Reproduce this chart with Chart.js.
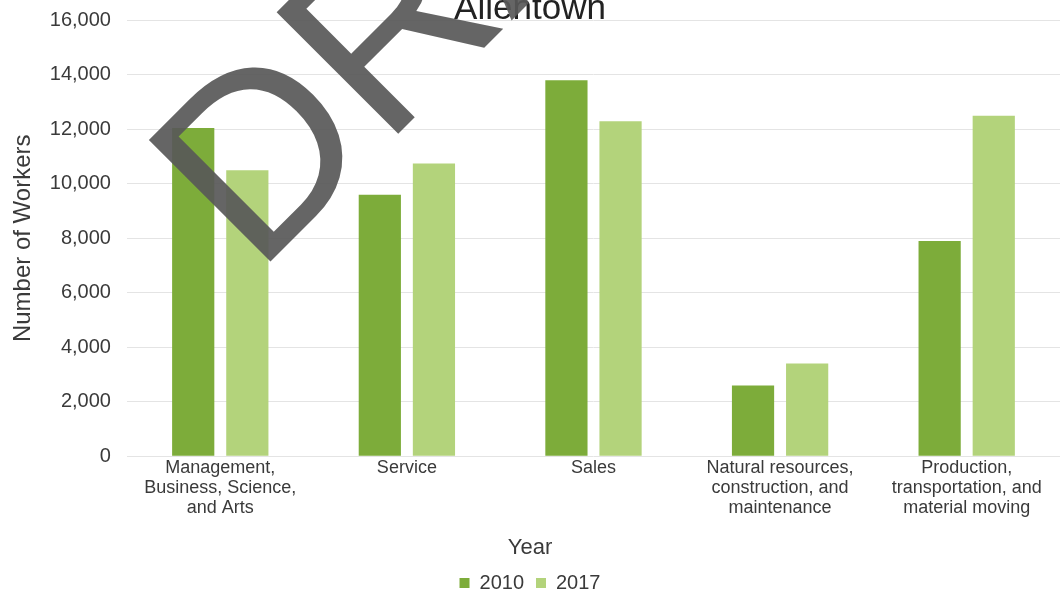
<!DOCTYPE html>
<html>
<head>
<meta charset="utf-8">
<title>Allentown</title>
<script src="https://cdn.jsdelivr.net/npm/chart.js@4/dist/chart.umd.min.js"></script>
<style>
    body { margin: 0; background: #ffffff; }
    #occupationChart { display: block; }
</style>
</head>
<body>
<canvas id="occupationChart" width="1060" height="603"></canvas>
<script>
// Chart data
const categories = [
    ["Management,", "Business, Science,", "and Arts"],
    "Service",
    "Sales",
    ["Natural resources,", "construction, and", "maintenance"],
    ["Production,", "transportation, and", "material moving"]
];

const years = ["2010", "2017"];

const workers2010 = [12050, 9600, 13800, 2600, 7900];
const workers2017 = [10500, 10750, 12300, 3400, 12500];

const yTicks = [0, 2000, 4000, 6000, 8000, 10000, 12000, 14000, 16000];

const textColor = "#3a3a3a";
const font = "'Liberation Sans', Arial, sans-serif";

// Rotated "DRAFT" stamp drawn over the chart
const draftStamp = {
    id: "draftStamp",
    afterDraw(chart) {
        const c = chart.ctx;
        c.save();
        c.translate(256, 276);
        c.rotate(-Math.PI / 4);
        c.font = "250px " + font;
        c.fillStyle = "rgba(88, 88, 88, 0.92)";
        c.textBaseline = "alphabetic";
        c.fillText("DRAFT", 0, 0);
        c.restore();
    }
};

const ctx = document.getElementById("occupationChart");

const chart = new Chart(ctx, {

    type: "bar",

    data: {
        labels: categories,
        datasets: [{
            label: years[0],
            data: workers2010,
            backgroundColor: "#7dac3a"
        }, {
            label: years[1],
            data: workers2017,
            backgroundColor: "#b3d37b"
        }]
    },

    options: {
        responsive: false,
        animation: false,
        categoryPercentage: 0.58,
        barPercentage: 0.78,
        layout: {
            padding: { left: 0, right: 0, top: -2, bottom: 0 }
        },
        plugins: {
            title: {
                display: true,
                text: "Allentown",
                color: "#222222",
                font: { family: font, size: 35, weight: "normal", lineHeight: 0.64 },
                padding: 0
            },
            legend: {
                position: "bottom",
                title: {
                    display: true,
                    text: "Year",
                    color: textColor,
                    font: { family: font, size: 22 },
                    padding: { top: 17, bottom: -2 }
                },
                labels: {
                    color: textColor,
                    font: { family: font, size: 20 },
                    boxWidth: 10,
                    boxHeight: 10,
                    padding: 12
                }
            },
            tooltip: { enabled: false }
        },
        scales: {
            x: {
                grid: { display: false, drawTicks: false },
                border: { display: false },
                ticks: {
                    color: textColor,
                    font: { family: font, size: 18, lineHeight: 1.1 },
                    padding: 2,
                    maxRotation: 0,
                    autoSkip: false
                }
            },
            y: {
                min: yTicks[0],
                max: yTicks[yTicks.length - 1],
                afterBuildTicks(scale) {
                    scale.ticks = yTicks.map(v => ({ value: v }));
                },
                grid: {
                    color: "#e4e4e4",
                    drawTicks: false
                },
                border: { display: false },
                ticks: {
                    color: textColor,
                    // small line height keeps the top label from pushing the plot down
                    font: { family: font, size: 20, lineHeight: 0.3 },
                    padding: 16,
                    callback: v => v.toLocaleString("en-US")
                },
                title: {
                    display: true,
                    text: "Number of Workers",
                    color: textColor,
                    font: { family: font, size: 24 },
                    padding: { top: 9, bottom: -4 }
                }
            }
        }
    },

    plugins: [draftStamp]
});
</script>
</body>
</html>
